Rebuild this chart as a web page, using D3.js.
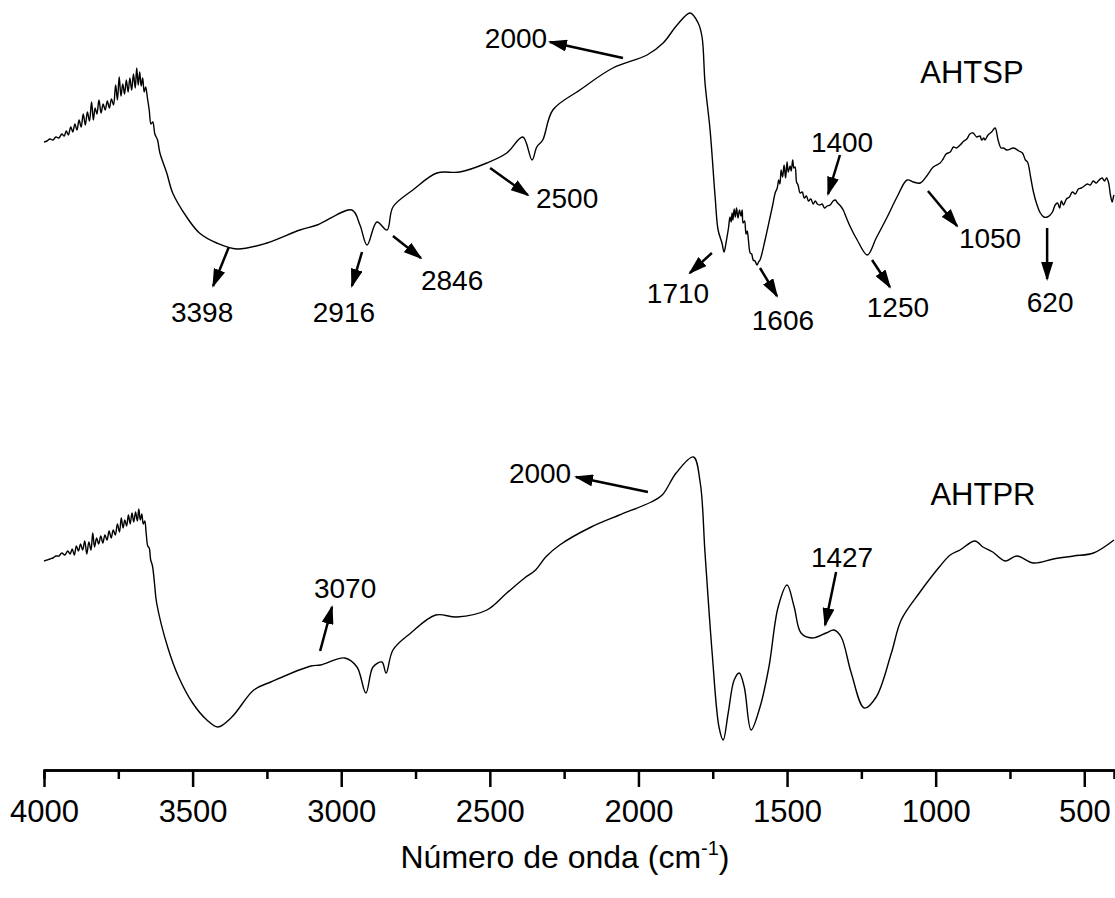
<!DOCTYPE html>
<html>
<head>
<meta charset="utf-8">
<script src="https://cdn.jsdelivr.net/npm/d3@7"></script>
<style>
  body { margin: 0; background: #fff; }
  text { font-family: "Liberation Sans", Arial, Helvetica, sans-serif; fill: #000; }
</style>
</head>
<body>
<div id="chart"></div>
<script>
// AHTSP spectrum (upper trace), arbitrary transmittance units
const topWn = [
  4000,3990,3980,3970,3960,3950,3940,3932,3925,3918,3910,3903,3896,3889,3882,3875,3868,3861,3854,3847,
  3840,3834,3828,3822,3815,3808,3801,3794,3787,3780,3773,3766,3759,3753,3747,3741,3735,3729,3723,3717,
  3711,3705,3699,3693,3688,3683,3678,3673,3668,3663,3658,3652,3646,3640,3634,3627,3618,3610,
  3587,3567,3520,3477,3419,3351,3250,3139,3081,2964,2937,2913,2880,2846,2826,2759,2678,2601,2510,2443,
  2389,2358,2342,2322,2288,2197,2086,1971,1917,1870,1826,1799,1786,1776,1759,1742,1732,
  1719,1712,1706,1702,1697,1692,1688,1685,1682,1678,1674,1670,1665,1660,1655,1651,1648,1643,1638,1634,
  1630,1624,1619,1614,1608,1601,1596,1591,
  1574,1557,1549,1540,1533,1528,1524,1520,1515,1510,1505,1500,1496,1490,1486,1481,1477,1473,1468,1463,
  1456,1449,1442,1435,1428,1420,1412,1405,1398,1390,1382,1374,1365,1355,1345,1338,1330,1320,1311,1300,1287,
  1264,1230,1200,1163,1130,1096,1075,1052,1030,1008,985,975,965,951,940,930,918,905,895,885,
  874,862,851,845,838,834,824,812,800,790,780,772,
  760,738,720,708,698,691,680,671,660,648,636,624,615,607,598,590,583,577,570,560,
  550,540,530,520,510,500,490,480,470,460,450,440,432,425,418,412,406,402,400
]
const topVal = [
  62.8,62.9,63.1,63.0,63.3,63.2,63.6,63.4,63.9,63.5,64.3,63.8,64.6,64.0,65.0,64.3,65.6,64.5,65.8,64.9,
  66.8,65.0,66.2,65.6,67.0,65.7,66.6,66.0,66.9,66.2,67.1,66.5,68.5,67.0,69.3,67.4,68.6,67.6,69.0,67.8,
  69.2,68.0,69.6,68.2,70.2,68.5,69.8,68.4,69.2,67.8,68.3,67.2,66.0,64.6,64.8,63.6,63.0,61.7,
  59.7,57.7,55.3,53.7,52.7,52.1,52.7,54.0,54.5,56.0,54.5,52.5,54.8,54.0,56.3,58.0,59.7,59.8,60.7,61.7,
  63.3,61.0,62.3,63.0,66.0,68.0,70.2,71.5,72.7,74.5,75.7,74.7,73.3,68.7,64.0,57.3,54.0,
  52.7,51.8,52.6,53.3,54.2,55.3,54.8,55.7,55.0,56.1,55.3,56.2,55.2,56.0,55.4,56.0,54.7,54.9,53.6,53.9,
  53.0,51.7,51.6,51.0,50.9,50.5,50.8,51.0,
  53.0,55.3,56.4,57.7,58.2,59.0,58.6,60.0,59.3,60.5,59.2,60.8,59.8,60.4,59.9,61.0,60.2,60.3,58.8,58.5,
  57.7,57.8,57.2,57.4,56.9,57.1,56.6,56.9,56.6,56.5,56.6,56.2,56.4,56.5,56.9,57.0,56.7,56.4,56.0,55.2,54.3,
  53.0,51.5,53.2,55.3,57.3,59.0,58.8,58.7,59.4,60.3,60.7,61.1,61.6,61.8,62.3,62.2,62.5,62.9,63.1,63.6,
  63.7,63.3,63.4,63.0,63.2,63.0,63.5,63.8,64.2,63.0,62.2,62.2,
  62.0,62.2,61.9,61.7,61.0,60.8,59.2,57.8,56.6,55.7,55.3,55.3,55.5,55.8,56.5,56.7,56.2,56.9,56.5,57.1,
  57.3,57.8,57.6,58.1,58.2,58.4,58.6,58.5,58.9,58.7,59.0,59.2,58.9,59.2,58.7,57.5,56.8,57.3,57.5
]

// AHTPR spectrum (lower trace)
const botWn = [
  4000,3990,3980,3970,3960,3950,3940,3930,3920,3912,3905,3898,3891,3884,3877,3870,3863,3856,3849,3842,
  3836,3830,3823,3816,3809,3802,3795,3788,3781,3774,3767,3760,3753,3746,3740,3734,3728,3722,3716,3710,
  3704,3698,3692,3686,3681,3676,3671,3666,3661,3656,3651,3646,3641,3635,3628,
  3621,3584,3547,3500,3452,3415,3368,3294,3237,3102,3069,2988,2947,2917,2893,2863,2849,2826,2766,2682,
  2611,2510,2443,2383,2346,2312,2265,2159,2064,1957,1920,1873,1815,1792,1776,1752,1729,1715,1698,1678,
  1661,1644,1621,1591,1561,1530,1500,1476,1453,1416,1369,1342,1318,1284,1240,1200,1149,1116,1055,985,
  951,918,868,841,808,767,727,671,604,536,469,400
]
const botVal = [
  20.9,21.0,21.1,21.2,21.4,21.4,21.7,21.5,21.9,21.6,22.1,21.5,22.4,21.9,22.6,22.0,22.9,21.6,22.8,22.0,
  23.7,22.3,23.2,22.6,23.4,22.7,23.5,23.0,23.9,23.2,24.0,23.5,24.6,23.8,25.2,24.2,25.0,24.4,25.5,24.6,
  25.7,24.8,25.8,24.9,26.1,25.0,25.6,24.6,24.9,23.6,22.4,22.2,21.0,20.4,18.6,
  16.7,12.3,9.3,6.7,5.0,4.3,5.3,8.0,8.8,10.4,10.5,11.2,10.3,7.7,10.3,10.8,9.7,12.0,13.7,15.5,
  15.3,16.0,17.7,19.2,20.0,21.3,22.5,24.3,25.5,26.8,27.5,29.7,31.3,28.7,21.7,11.7,4.3,3.0,5.7,9.0,
  9.7,8.3,4.0,6.3,10.3,16.3,18.5,16.3,13.7,13.2,13.7,14.0,13.3,9.7,6.2,7.3,11.7,15.0,17.7,20.4,
  21.5,22.0,22.9,22.3,21.8,20.9,21.4,20.7,21.1,21.4,21.7,23.0
]

// axis ticks
const majorTicks = [4000, 3500, 3000, 2500, 2000, 1500, 1000, 500]
const minorTicks = [3750, 3250, 2750, 2250, 1750, 1250, 750]

// peak labels: text, position (wavenumber, value)
const labelText = ['3398','2916','2846','2500','2000','1710','1606','1400','1250','1050','620','3070','2000','1427']
const labelWn   = [3468, 2991, 2627, 2240, 2412, 1867, 1514, 1315, 1127, 817, 615, 2987, 2331, 1315]
const labelVal  = [44.8, 44.8, 48.0, 56.2, 72.2, 46.7, 44.0, 61.8, 45.3, 52.2, 45.8, 17.2, 28.7, 20.3]

// arrows: start (wavenumber, value) -> tip (wavenumber, value)
const arrowFromWn  = [3378, 2930, 2826, 2499, 2052, 1753, 1591, 1322, 1214, 1026, 625, 3071, 1968, 1335]
const arrowFromVal = [52.3, 51.8, 53.4, 60.2, 71.2, 51.7, 50.2, 61.5, 51.0, 57.9, 54.2, 11.9, 27.8, 19.8]
const arrowToWn    = [3431, 2964, 2732, 2372, 2298, 1827, 1534, 1362, 1154, 928, 625, 3031, 2210, 1372]
const arrowToVal   = [48.4, 48.4, 51.2, 57.5, 72.8, 49.7, 47.4, 57.6, 48.3, 54.4, 49.1, 16.3, 29.3, 14.5]

// sample names
const sampleNames = ['AHTSP', 'AHTPR']
const sampleWn = [878, 841]
const sampleVal = [68.7, 26.5]

const W = 1115, H = 898

const x = d3.scaleLinear().domain([4000, 400]).range([44, 1114])
const y = d3.scaleLinear().domain([0, 77]).range([770, 0])

const svg = d3.select('#chart').append('svg')
  .attr('width', W)
  .attr('height', H)
  .style('background', '#fff')

svg.append('defs').append('marker')
  .attr('id', 'head')
  .attr('viewBox', '-19 -6 19 12')
  .attr('markerWidth', 19)
  .attr('markerHeight', 12)
  .attr('refX', -2)
  .attr('refY', 0)
  .attr('orient', 'auto')
  .attr('markerUnits', 'userSpaceOnUse')
  .append('path')
  .attr('d', 'M0,0L-19,-6L-19,6Z')
  .attr('fill', '#000')

const line = d3.line()
  .x(d => x(d[0]))
  .y(d => y(d[1]))
  .curve(d3.curveCatmullRom.alpha(0.5))

const series = [
  topWn.map((w, i) => [w, topVal[i]]),
  botWn.map((w, i) => [w, botVal[i]])
]

svg.selectAll('path.spectrum')
  .data(series)
  .join('path')
  .attr('class', 'spectrum')
  .attr('d', line)
  .attr('fill', 'none')
  .attr('stroke', '#000')
  .attr('stroke-width', 1.4)
  .attr('stroke-linejoin', 'round')

// bottom axis, major and minor ticks
const axisG = svg.append('g').attr('transform', `translate(0, ${y(0)})`)

axisG.append('g')
  .call(d3.axisBottom(x).tickValues(minorTicks).tickSize(9).tickFormat(''))

axisG.append('g')
  .call(d3.axisBottom(x).tickValues(majorTicks).tickSize(17).tickPadding(13).tickSizeOuter(0).tickFormat(d3.format('d')))

axisG.selectAll('.domain').attr('stroke-width', 2.5)
axisG.selectAll('.tick line').attr('stroke-width', 2.5)
axisG.selectAll('.tick text')
  .style('font-size', '31px')
  .style('font-family', '"Liberation Sans", Arial, sans-serif')

const title = svg.append('text')
  .attr('x', 565)
  .attr('y', 868)
  .attr('text-anchor', 'middle')
  .style('font-size', '32px')
title.append('tspan').text('Número de onda (cm')
title.append('tspan').text('-1').attr('dy', -13).style('font-size', '20px')
title.append('tspan').text(')').attr('dy', 13)

// arrows
svg.selectAll('line.arrow')
  .data(arrowFromWn)
  .join('line')
  .attr('class', 'arrow')
  .attr('x1', (d, i) => x(arrowFromWn[i]))
  .attr('y1', (d, i) => y(arrowFromVal[i]))
  .attr('x2', (d, i) => x(arrowToWn[i]))
  .attr('y2', (d, i) => y(arrowToVal[i]))
  .attr('stroke', '#000')
  .attr('stroke-width', 2.5)
  .attr('marker-end', 'url(#head)')

svg.selectAll('text.peak')
  .data(labelText)
  .join('text')
  .attr('class', 'peak')
  .attr('x', (d, i) => x(labelWn[i]))
  .attr('y', (d, i) => y(labelVal[i]))
  .attr('text-anchor', 'middle')
  .style('font-size', '28px')
  .text(d => d)

svg.selectAll('text.sample')
  .data(sampleNames)
  .join('text')
  .attr('class', 'sample')
  .attr('x', (d, i) => x(sampleWn[i]))
  .attr('y', (d, i) => y(sampleVal[i]))
  .attr('text-anchor', 'middle')
  .style('font-size', '31px')
  .text(d => d)
</script>
</body>
</html>
